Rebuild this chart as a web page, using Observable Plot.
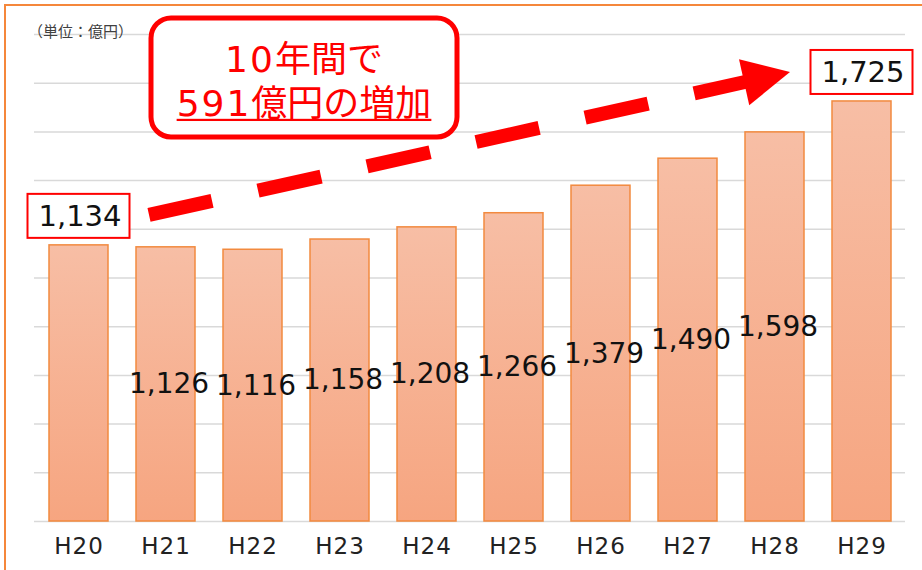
<!DOCTYPE html>
<html>
<head>
<meta charset="utf-8">
<script src="https://cdn.jsdelivr.net/npm/d3@7"></script>
<script src="https://cdn.jsdelivr.net/npm/@observablehq/plot@0.6"></script>
<style>
  html, body { margin: 0; padding: 0; background: #fff; overflow: hidden; }
  #chart { width: 922px; height: 570px; }
</style>
</head>
<body>
<div id="chart"></div>
<script>
// ---- data ----
const years = ["H20", "H21", "H22", "H23", "H24", "H25", "H26", "H27", "H28", "H29"];
const values = [1134, 1126, 1116, 1158, 1208, 1266, 1379, 1490, 1598, 1725];
const yTicks = [0, 200, 400, 600, 800, 1000, 1200, 1400, 1600, 1800, 2000];
const unitLabel = "（単位：億円）";
const boxLine1 = ["10", "年間で"];
const boxLine2 = ["591", "億円の増加"];

const data = years.map((year, i) => ({year, value: values[i]}));
const inner = data.slice(1, -1);
const ends = [data[0], data[data.length - 1]];
const fmt = d3.format(",");
const numFont = "'DejaVu Sans', 'Liberation Sans', sans-serif";

function gradientDefs() {
  const ns = "http://www.w3.org/2000/svg";
  const defs = document.createElementNS(ns, "defs");
  defs.innerHTML = '<linearGradient id="barGrad" x1="0" y1="0" x2="0" y2="1">' +
    '<stop offset="0" stop-color="#f7bea5"/><stop offset="1" stop-color="#f6a580"/></linearGradient>';
  return defs;
}

const plot = Plot.plot({
  width: 922,
  height: 570,
  marginLeft: 34,
  marginRight: 17,
  marginTop: 34,
  marginBottom: 49,
  x: {domain: years, paddingInner: 0.323, paddingOuter: 0.1615, axis: null, label: null},
  y: {domain: [0, 2000], axis: null},
  style: {fontFamily: numFont, background: "#fff"},
  marks: [
    gradientDefs,
    Plot.gridY(yTicks, {stroke: "#d9d9d9", strokeOpacity: 1, strokeWidth: 1.5}),
    Plot.barY(data, {x: "year", y: "value", fill: "url(#barGrad)", stroke: "#f28a3f", strokeWidth: 1.5}),
    Plot.axisX({tickSize: 0, tickPadding: 16, fontSize: 23, fill: "#222", label: null}),
    Plot.text(inner, {x: "year", y: d => d.value / 2, text: d => fmt(d.value), fontSize: 28, fill: "#111", dx: 3}),
    Plot.barY(ends, {x: "year", y1: "value", y2: "value", insetLeft: -21.5, insetRight: -21.5, insetTop: -51, insetBottom: 7,
      fill: "#fff", stroke: "#ff0000", strokeWidth: 2}),
    Plot.text(ends, {x: "year", y: "value", dy: -29, dx: 1, text: d => fmt(d.value), fontSize: 29, fill: "#111"})
  ]
});

document.getElementById("chart").appendChild(plot);
d3.select(plot).selectAll("g[aria-label='x-axis tick label'] text").attr("letter-spacing", "1px");

// ---- annotations positioned through the plot's scales ----
const xs = plot.scale("x"), ys = plot.scale("y");
const bw = xs.bandwidth;
const svg = d3.select(plot);

// outer orange frame (right/bottom edges fall outside the picture)
svg.insert("rect", ":first-child").attr("x", 5).attr("y", 5).attr("width", 1200).attr("height", 1200)
  .attr("fill", "none").attr("stroke", "#f5873b").attr("stroke-width", 2);

// unit label
svg.append("text").text(unitLabel)
  .attr("x", xs.apply("H20") - 21).attr("y", ys.apply(2000) + 3)
  .attr("text-anchor", "start")
  .style("font-family", "'Noto Sans CJK JP', sans-serif").style("font-size", "15px")
  .attr("fill", "#404040");

// dashed arrow
const start = [xs.apply("H21") + 13, ys.apply(1257)];
const tip = [xs.apply("H28") + 45, ys.apply(1844)];
const dx = tip[0] - start[0], dy = tip[1] - start[1];
const L = Math.hypot(dx, dy), ux = dx / L, uy = dy / L;
const headLen = 47, headHalf = 23.5;
const base = [tip[0] - ux * headLen, tip[1] - uy * headLen];
svg.append("line")
  .attr("x1", start[0]).attr("y1", start[1]).attr("x2", base[0] + ux * 2).attr("y2", base[1] + uy * 2)
  .attr("stroke", "#ff0000").attr("stroke-width", 14).attr("stroke-dasharray", "64.6 47.1");
svg.append("polygon")
  .attr("points", [
    [base[0] - uy * headHalf, base[1] + ux * headHalf],
    tip,
    [base[0] + uy * headHalf, base[1] - ux * headHalf]
  ].map(p => p.join(",")).join(" "))
  .attr("fill", "#ff0000");

// rounded callout box
const bx0 = xs.apply("H21") + 15, bx1 = xs.apply("H24") + bw + 1;
const by0 = ys.apply(2066), by1 = ys.apply(1577);
svg.append("rect").attr("x", bx0).attr("y", by0).attr("width", bx1 - bx0).attr("height", by1 - by0)
  .attr("rx", 20).attr("ry", 20).attr("fill", "#fff").attr("stroke", "#ff0000").attr("stroke-width", 5);
const cx = (bx0 + bx1) / 2;
function boxLine(parts, yVal) {
  const t = svg.append("text").attr("x", cx).attr("y", ys.apply(yVal))
    .attr("text-anchor", "middle").attr("fill", "#ff0000")
    .attr("font-family", "'Noto Sans CJK JP', sans-serif").attr("font-size", 36);
  t.append("tspan").attr("font-family", numFont).attr("letter-spacing", "2px").text(parts[0]);
  t.append("tspan").text(parts[1]);
  return t;
}
boxLine(boxLine1, 1844);
const t2 = boxLine(boxLine2, 1664);
const bb = t2.node().getBBox();
svg.append("rect").attr("x", bb.x).attr("y", ys.apply(1664) + 3).attr("width", bb.width).attr("height", 2.2)
  .attr("fill", "#ff0000");
</script>
</body>
</html>
